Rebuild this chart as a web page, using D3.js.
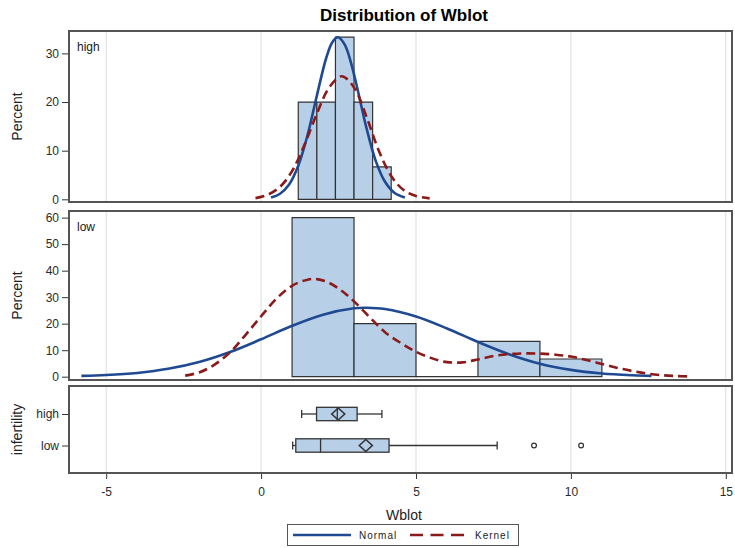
<!DOCTYPE html>
<html>
<head>
<meta charset="utf-8">
<script src="https://cdn.jsdelivr.net/npm/d3@7"></script>
<style>
  body { margin: 0; background: #fff; }
  svg { display: block; }
  text { font-family: "Liberation Sans", Arial, sans-serif; fill: #222; }
</style>
</head>
<body>
<svg id="chart" width="735" height="548"></svg>
<script>
// ---------- data ----------
const xTicks = [-5, 0, 5, 10, 15];
const groups = ["high", "low"];

// histogram bins (left edge, width, percent)
const highBinStart = [1.2, 1.8, 2.4, 3.0, 3.6];
const highBinWidth = 0.6;
const highPercent = [20, 20, 33.33, 20, 6.67];
const lowBinStart = [1, 3, 5, 7, 9];
const lowBinWidth = 2;
const lowPercent = [60, 20, 0, 13.33, 6.67];

// fitted curves, [Wblot, percent]
const highNormal = [[0.32,0.37],[0.6,1.1],[0.9,3.0],[1.2,6.9],[1.5,13.2],[1.8,21.3],[2.1,29.0],[2.3,32.3],[2.48,33.3],
  [2.7,31.8],[2.9,28.1],[3.1,23.0],[3.4,14.7],[3.7,7.9],[4.0,3.6],[4.3,1.36],[4.64,0.37]];
const highKernel = [[-0.18,0.25],[0.2,0.9],[0.6,2.5],[1.0,5.8],[1.4,11.2],[1.8,17.6],[2.2,23.0],[2.6,25.3],
  [3.0,23.0],[3.4,17.0],[3.8,10.0],[4.2,4.8],[4.6,1.9],[5.0,0.7],[5.44,0.2]];
const lowNormal = [[-5.8,0.29],[-5,0.62],[-4,1.42],[-3,2.96],[-2,5.53],[-1,9.3],[0,14.1],[1,19.2],[2,23.4],[3,25.8],
  [3.4,26.0],[4,25.5],[5,22.7],[6,18.2],[7,13.1],[8,8.5],[9,4.9],[10,2.58],[11,1.21],[12,0.52],[12.6,0.29]];
const lowKernel = [[-2.45,0.4],[-2.0,1.6],[-1.55,4.2],[-1.0,9.2],[-0.5,15.8],[0,22.8],[0.5,29.5],[1.0,34.3],[1.5,36.6],
  [1.8,36.8],[2.2,35.4],[2.6,32.4],[3.0,28.4],[3.5,22.5],[4.0,16.8],[4.5,12.8],[5.0,9.4],[5.5,7.0],[6.0,5.5],[6.5,5.4],
  [7.0,6.5],[7.5,7.8],[8.0,8.5],[8.5,8.8],[9.0,8.7],[9.5,8.3],[10.0,7.6],[10.5,6.3],[11.0,4.8],[11.5,3.3],[12.0,2.1],
  [12.5,1.1],[13.0,0.5],[13.4,0.25],[13.8,0.1]];

// box plot statistics, ordered as groups
const whiskerLow = [1.31, 1.02];
const quart1 = [1.79, 1.12];
const medians = [2.46, 1.92];
const quart3 = [3.10, 4.13];
const whiskerHigh = [3.90, 7.62];
const means = [2.49, 3.38];
const outliers = [[], [8.81, 10.33]];

const highTicks = [0, 10, 20, 30];
const lowTicks = [0, 10, 20, 30, 40, 50, 60];

// ---------- layout ----------
const svg = d3.select("#chart");
const L = 69, R = 732;
const panels = {
  high: { top: 31, bottom: 202 },
  low: { top: 211, bottom: 380 },
  box: { top: 386, bottom: 473 }
};
const BLUE = "#1f4a91", RED = "#8b1a1a", FILL = "#b8cfe8", EDGE = "#333";
const plainNum = d => String(d);   // keep the ASCII hyphen for negatives

const x = d3.scaleLinear().domain([-6.2, 15.2]).range([L, R]);
const yHigh = d3.scaleLinear().domain([-0.55, 34.6]).range([panels.high.bottom, panels.high.top]);
const yLow = d3.scaleLinear().domain([-1.25, 62.5]).range([panels.low.bottom, panels.low.top]);
const yBox = d3.scalePoint().domain(groups).range([414, 445.5]);

svg.append("rect").attr("width", 735).attr("height", 548).attr("fill", "#fff");

// title
svg.append("text").attr("x", 404).attr("y", 21).attr("text-anchor", "middle")
  .style("font-size", "17px").style("font-weight", "bold").style("fill", "#000")
  .text("Distribution of Wblot");

// vertical grid lines in each panel
Object.values(panels).forEach(p => {
  svg.append("g").selectAll("line").data(xTicks).join("line")
    .attr("x1", d => x(d)).attr("x2", d => x(d))
    .attr("y1", p.top).attr("y2", p.bottom)
    .attr("stroke", "#dcdcdc").attr("stroke-width", 1);
});

function styleAxis(g) {
  g.select(".domain").remove();
  g.selectAll(".tick line").attr("stroke", "#333");
  g.selectAll(".tick text").style("font-size", "12px").style("fill", "#2a2a2a").style("font-family", "'Liberation Sans', Arial, sans-serif");
}

function histPanel(p, y, starts, width, pcts, normal, kernel, ticks, tag) {
  const g = svg.append("g");
  g.selectAll("path.bar").data(starts).join("path").attr("class", "bar")
    .attr("d", (s, i) => {
      const x0 = x(s), x1 = x(s + width), y0 = y(0), y1 = y(pcts[i]);
      return `M${x0},${y0}V${y1}H${x1}V${y0}Z`;
    })
    .attr("fill", FILL).attr("stroke", EDGE).attr("stroke-width", 1.2);

  const line = d3.line().x(d => x(d[0])).y(d => y(d[1])).curve(d3.curveCatmullRom.alpha(0.5));
  g.append("path").attr("d", line(normal)).attr("fill", "none")
    .attr("stroke", BLUE).attr("stroke-width", 2.6).attr("stroke-linejoin", "round");
  g.append("path").attr("d", line(kernel)).attr("fill", "none")
    .attr("stroke", RED).attr("stroke-width", 2.6).attr("stroke-dasharray", "9,5");

  const ax = svg.append("g").attr("transform", `translate(${L},0)`)
    .call(d3.axisLeft(y).tickValues(ticks).tickFormat(plainNum).tickSize(7).tickPadding(3));
  styleAxis(ax);

  svg.append("text").attr("x", 77).attr("y", p.top + 20).style("font-size", "12px").style("fill", "#1a1a1a").text(tag);
  svg.append("text").attr("transform", `translate(22,${(p.top + p.bottom) / 2}) rotate(-90)`)
    .attr("text-anchor", "middle").style("font-size", "14px").text("Percent");
  svg.append("rect").attr("x", L).attr("y", p.top).attr("width", R - L).attr("height", p.bottom - p.top)
    .attr("fill", "none").attr("stroke", "#555").attr("stroke-width", 2);
}

histPanel(panels.high, yHigh, highBinStart, highBinWidth, highPercent, highNormal, highKernel, highTicks, "high");
histPanel(panels.low, yLow, lowBinStart, lowBinWidth, lowPercent, lowNormal, lowKernel, lowTicks, "low");

// box plots
const bg = svg.append("g");
groups.forEach((gname, i) => {
  const cy = yBox(gname), bh = 13.4, capH = 8;
  const ln = (x1, y1, x2, y2) => bg.append("line").attr("x1", x1).attr("y1", y1).attr("x2", x2).attr("y2", y2)
    .attr("stroke", EDGE).attr("stroke-width", 1.3);
  ln(x(whiskerLow[i]), cy, x(quart1[i]), cy);
  ln(x(quart3[i]), cy, x(whiskerHigh[i]), cy);
  ln(x(whiskerLow[i]), cy - capH / 2, x(whiskerLow[i]), cy + capH / 2);
  ln(x(whiskerHigh[i]), cy - capH / 2, x(whiskerHigh[i]), cy + capH / 2);
  bg.append("rect").attr("x", x(quart1[i])).attr("y", cy - bh / 2)
    .attr("width", x(quart3[i]) - x(quart1[i])).attr("height", bh)
    .attr("fill", FILL).attr("stroke", EDGE).attr("stroke-width", 1.3);
  ln(x(medians[i]), cy - bh / 2, x(medians[i]), cy + bh / 2);
  const mx = x(means[i]), dw = 6.5, dh = 6;
  bg.append("path").attr("d", `M${mx - dw},${cy}L${mx},${cy - dh}L${mx + dw},${cy}L${mx},${cy + dh}Z`)
    .attr("fill", "none").attr("stroke", EDGE).attr("stroke-width", 1.6);
  bg.selectAll(null).data(outliers[i]).join("circle")
    .attr("cx", d => x(d)).attr("cy", cy).attr("r", 2.4)
    .attr("fill", "none").attr("stroke", EDGE).attr("stroke-width", 1.2);
});

const boxAxisY = svg.append("g").attr("transform", `translate(${L},0)`)
  .call(d3.axisLeft(yBox).tickSize(7).tickPadding(3));
styleAxis(boxAxisY);
svg.append("text").attr("transform", `translate(22,${(panels.box.top + panels.box.bottom) / 2}) rotate(-90)`)
  .attr("text-anchor", "middle").style("font-size", "14px").text("infertility");

const xAxis = svg.append("g").attr("transform", `translate(0,${panels.box.bottom})`)
  .call(d3.axisBottom(x).tickValues(xTicks).tickFormat(plainNum).tickSize(6).tickPadding(8));
styleAxis(xAxis);
svg.append("rect").attr("x", L).attr("y", panels.box.top).attr("width", R - L)
  .attr("height", panels.box.bottom - panels.box.top)
  .attr("fill", "none").attr("stroke", "#555").attr("stroke-width", 2);

svg.append("text").attr("x", 404).attr("y", 520).attr("text-anchor", "middle")
  .style("font-size", "14px").text("Wblot");

// legend
const lg = svg.append("g");
lg.append("rect").attr("x", 287.5).attr("y", 524.5).attr("width", 231).attr("height", 21)
  .attr("fill", "#fff").attr("stroke", "#555").attr("stroke-width", 1);
lg.append("line").attr("x1", 293).attr("x2", 351).attr("y1", 535).attr("y2", 535)
  .attr("stroke", BLUE).attr("stroke-width", 2.6);
lg.append("text").attr("x", 359).attr("y", 539).style("font-size", "10px").style("letter-spacing", "1px").text("Normal");
lg.append("line").attr("x1", 410).attr("x2", 464).attr("y1", 535).attr("y2", 535)
  .attr("stroke", RED).attr("stroke-width", 2.6).attr("stroke-dasharray", "13,7.5");
lg.append("text").attr("x", 475).attr("y", 539).style("font-size", "10px").style("letter-spacing", "1px").text("Kernel");
</script>
</body>
</html>
